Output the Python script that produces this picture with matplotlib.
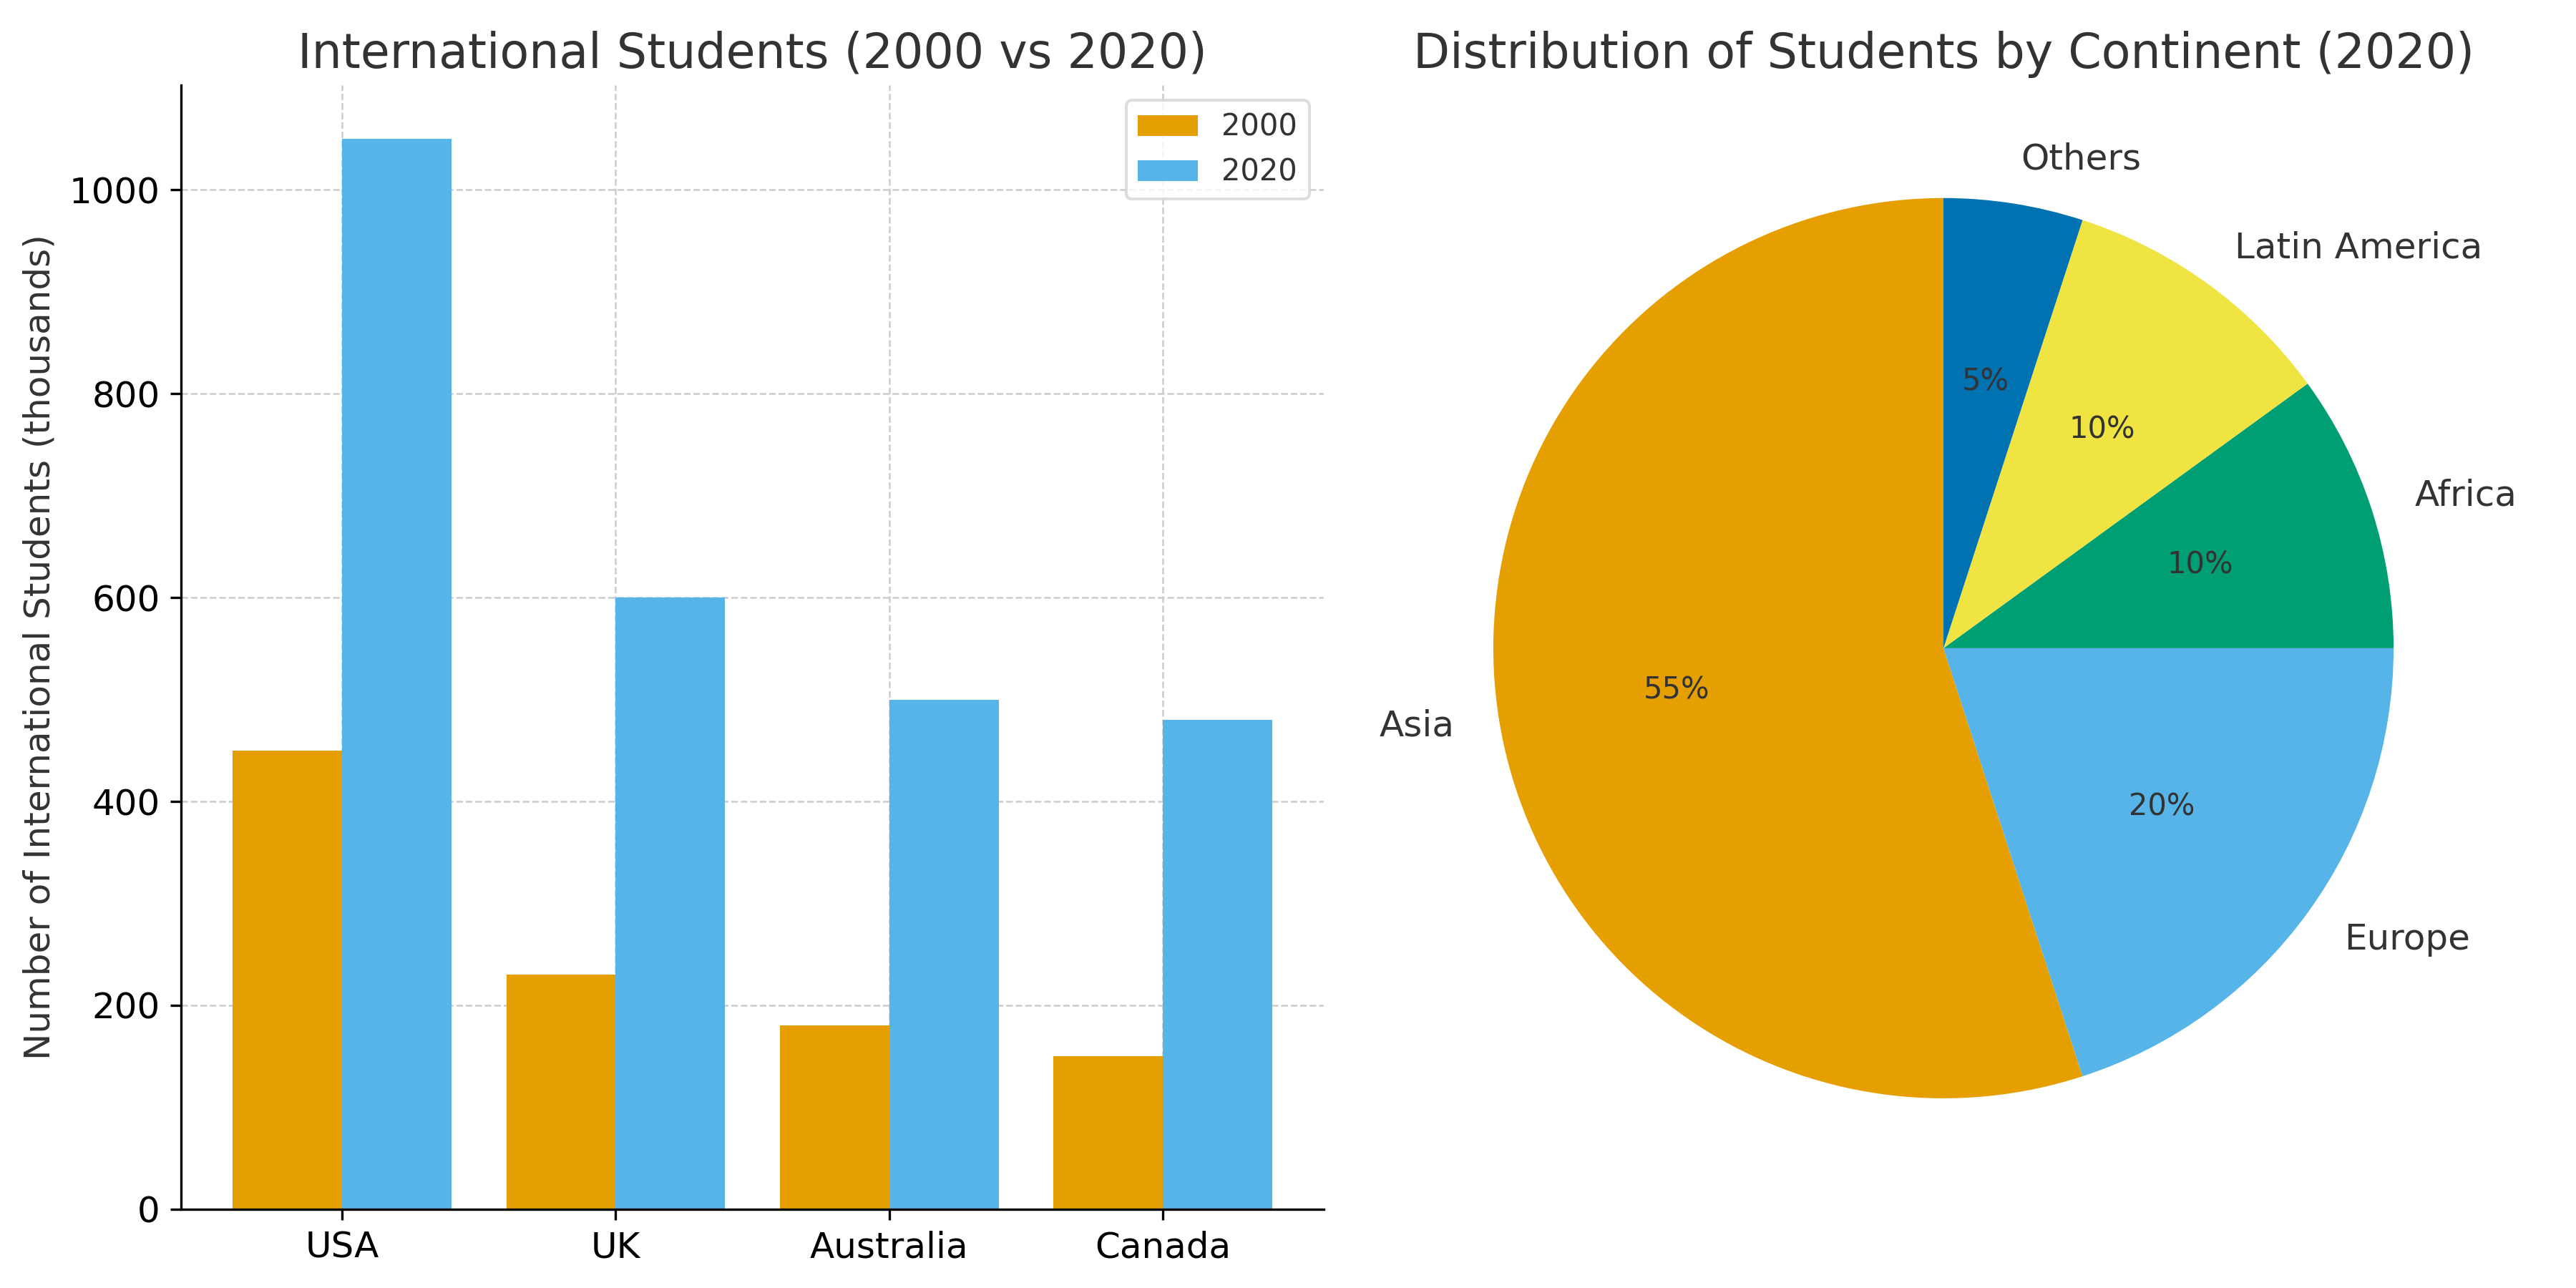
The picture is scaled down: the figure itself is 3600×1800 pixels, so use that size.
import matplotlib.pyplot as plt
import numpy as np

# data
countries = ['USA', 'UK', 'Australia', 'Canada']
students_2000 = [450, 230, 180, 150]
students_2020 = [1050, 600, 500, 480]

continents = ['Asia', 'Europe', 'Africa', 'Latin America', 'Others']
shares = [55, 20, 10, 10, 5]

bar_colors = ['#E69F00', '#56B4E9']
pie_colors = ['#E69F00', '#56B4E9', '#009E73', '#F0E442', '#0072B2']

txt = '#333333'

fig = plt.figure(figsize=(12, 6), dpi=300)
ax1 = fig.add_axes([0.0702, 0.0612, 0.4438, 0.8725])
ax2 = fig.add_axes([0.536, 0.0599, 0.4369, 0.8737])

# bar chart
x = np.arange(len(countries))
w = 0.4
ax1.bar(x - w/2, students_2000, w, color=bar_colors[0], label='2000', zorder=2)
ax1.bar(x + w/2, students_2020, w, color=bar_colors[1], label='2020', zorder=2)
ax1.set_xticks(x)
ax1.set_xticklabels(countries, fontsize=12)
ax1.set_xlim(-0.59, 3.59)
ax1.tick_params(axis='y', labelsize=12)
ax1.set_ylabel('Number of International Students (thousands)', fontsize=12, color=txt)
ax1.set_title('International Students (2000 vs 2020)', fontsize=16, color=txt)
ax1.grid(True, linestyle='--', color='#cccccc', linewidth=0.6, zorder=0)
ax1.spines['top'].set_visible(False)
ax1.spines['right'].set_visible(False)
leg = ax1.legend(fontsize=10, labelcolor=txt)
leg.get_frame().set_edgecolor('#d5d5d5')

# pie chart
wedges, labels, pcts = ax2.pie(shares, labels=continents, colors=pie_colors,
                               autopct='%1.0f%%', startangle=90,
                               textprops={'fontsize': 12, 'color': txt})
for p in pcts:
    p.set_fontsize(10)
ax2.set_title('Distribution of Students by Continent (2020)', fontsize=16, color=txt)
ax2.set_aspect('equal')
ax2.set_xlim(-1.25, 1.25)
ax2.set_ylim(-1.25, 1.25)

plt.savefig('out.png')
